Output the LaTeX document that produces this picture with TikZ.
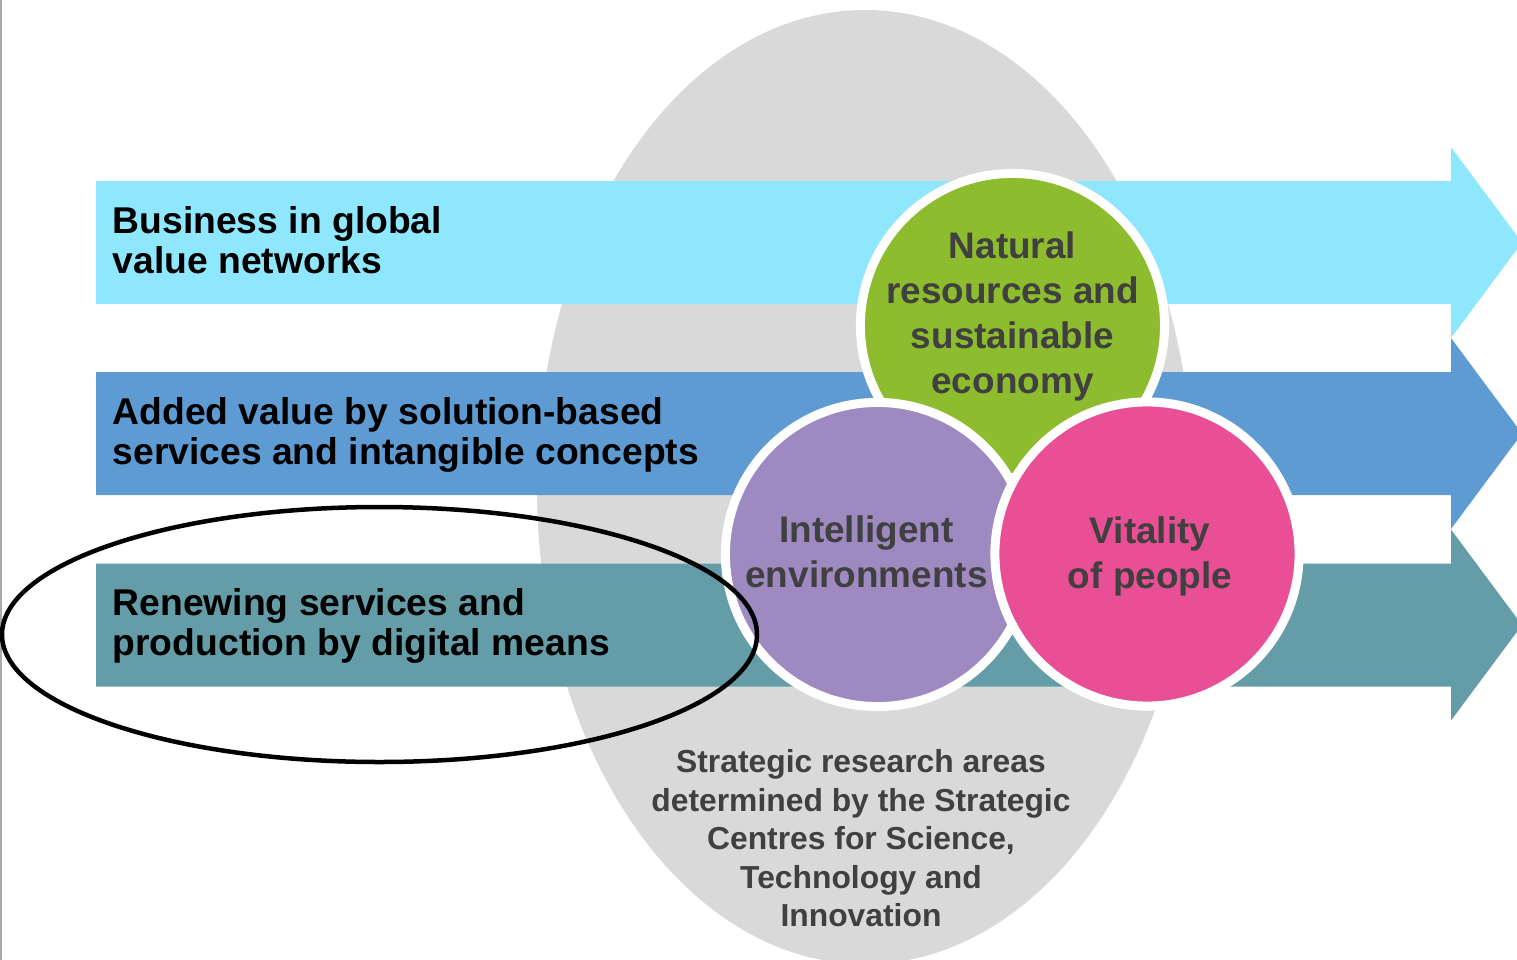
\documentclass[tikz,border=0pt]{standalone}
\usepackage{fontspec}
\setmainfont{Liberation Sans}
\usepackage{tikz}
\usetikzlibrary{calc, positioning}
\definecolor{bandCyan}{RGB}{143,231,253}
\definecolor{bandBlue}{RGB}{95,155,211}
\definecolor{bandTeal}{RGB}{100,156,168}
\definecolor{areaGray}{RGB}{217,217,217}
\definecolor{natGreen}{RGB}{141,188,47}
\definecolor{intPurple}{RGB}{158,138,193}
\definecolor{vitPink}{RGB}{233,79,149}
\definecolor{textGray}{RGB}{64,64,64}
\definecolor{ruleGray}{RGB}{170,170,170}

\begin{document}
\begin{tikzpicture}[x=0.01cm, y=-0.01cm,
    bandtext/.style={anchor=west, align=left, inner sep=0pt, text=black,
        font=\fontsize{10.6pt}{11.4pt}\selectfont\bfseries},
    area/.style={circle, draw=white, line width=0.09cm, minimum size=3.04cm,
        inner sep=0pt, outer sep=0pt},
    areatext/.style={align=center, inner sep=0pt, text=textGray,
        font=\fontsize{10.5pt}{12.8pt}\selectfont\bfseries}]
    \useasboundingbox (0,0) rectangle (1517,960);
    \clip (0,0) rectangle (1517,960);

    % page edge
    \draw[ruleGray, line width=0.025cm] (1,0) -- (1,960);

    % strategic research areas (background)
    \fill[areaGray] (865,487) ellipse (328 and 477);

    % three arrows
    \foreach \yc/\col in {242.5/bandCyan, 433.5/bandBlue, 625/bandTeal}{
        \fill[\col] (96,\yc-61.5) -- (1451,\yc-61.5) -- (1451,\yc-95.5) -- (1522,\yc)
            -- (1451,\yc+95.5) -- (1451,\yc+61.5) -- (96,\yc+61.5) -- cycle;
    }
    \node[bandtext] (business) at (112,240.5) {Business in global\\value networks};
    \node[bandtext] (added) at (112,435) {Added value by solution-based\\services and intangible concepts};
    \node[bandtext] (renewing) at (112,625.5) {Renewing services and\\production by digital means};

    % research area circles
    \node[area, fill=natGreen] (natural) at (1012.5,325.5) {};
    \node[area, fill=intPurple] (intelligent) at (877.5,554.5) {};
    \node[area, fill=vitPink] (vitality) at (1147,554) {};

    \node[areatext] (naturalText) at ([yshift=0.095cm]natural.center)
        {Natural\\resources and\\sustainable\\economy};
    \node[areatext] (intelligentText) at ([xshift=-0.11cm, yshift=0.025cm]intelligent.center)
        {Intelligent\\environments};
    \node[areatext] (vitalityText) at ([xshift=0.03cm, yshift=-0.02cm]vitality.center)
        {Vitality\\of people};

    \node[align=center, inner sep=0pt, text=textGray,
        font=\fontsize{9.05pt}{10.95pt}\selectfont\bfseries] (strategic) at (861,838.5)
        {Strategic research areas\\determined by the Strategic\\Centres for Science,\\Technology and\\Innovation};

    % highlight
    \draw[black, line width=0.045cm] (379.5,634.5) ellipse (377.5 and 127.5);
\end{tikzpicture}
\end{document}
